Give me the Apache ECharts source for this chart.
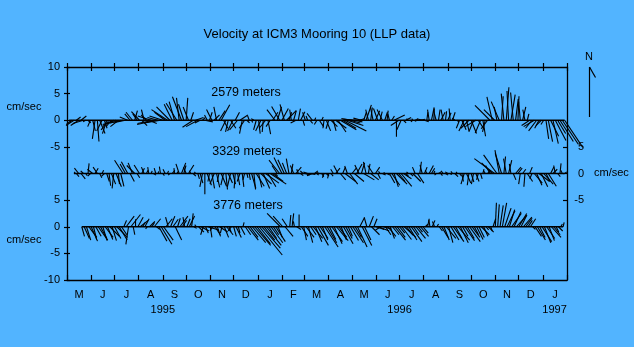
<!DOCTYPE html>
<html><head><meta charset="utf-8">
<script src="https://cdn.jsdelivr.net/npm/echarts@6/dist/echarts.min.js"></script>
<style>html,body{margin:0;padding:0;background:#52B4FF;}#c{width:634px;height:347px;}</style>
</head><body><div id="c"></div>
<script>
// ---------- text / axis data ----------
const chartTitle = 'Velocity at ICM3 Mooring 10 (LLP data)';
const depthNames = ['2579 meters', '3329 meters', '3776 meters'];
const monthLetters = ['M','J','J','A','S','O','N','D','J','F','M','A','M','J','J','A','S','O','N','D','J'];
// days since 1 May 1995 of each month start (1 May 1995 .. 1 Feb 1997)
const monthStartDays = [0,31,61,92,123,153,184,214,245,276,305,336,366,397,427,458,489,519,550,580,611,642];
const yearNames = ['1995', '1996', '1997'];
const yearDays = [123, 427, 626];
const leftTicks = [10, 5, 0, -5, -15, -20, -25, -30];
const rightTicks = [-5, -10, -15];
// vertical offsets (cm/s) of each depth's zero line on the shared axis
const depthOffsets = [0, -10, -20];

// ---------- velocity sticks (east u, north v, cm/s), one every 3 days ----------
const sampleStep = 3;
const start2579 = 3;
const u2579 = [
 0.3,-1,-1.5,0.8,-1.5,1,-2,-0.5,0.5,-0.5,
 0.5,-0.5,0.3,1,-1,0.5,-0.8,-1.5,-1,-2,
 -2.5,-1.5,-2,-3,-2,-1.5,-1,-1.2,0.5,-0.8,
 -1.5,1,-0.5,-1,1.5,-2.5,-3,-3.5,-2,-3,
 -2.5,-2,-3,-2.5,-1.5,-1,-2,-0.5,-1.7,-1,
 0.3,-1,0.5,-2,1.5,-2.2,-1,0.5,1.5,-0.5,
 0.5,-1,1,-0.5,1.2,1.6,0.8,-1,-0.5,1,
 -1,0.8,-1.5,1.5,-0.5,-1,0.5,-0.3,0.2,-0.5,
 -0.5,0.3,-1,-0.2,-1.2,0.5,-0.8,1,-1.5,0.8,
 -1.5,1.2,-0.8,1.8,0.5,-0.3,0.5,-1,0.4,0.8,
 0.3,-0.5,-0.3,0.5,-1,0.2,-0.5,0.8,0.3,-0.2,
 0.8,-0.5,1.2,0.5,2,1.5,3,2.5,4,3,
 2,-2,1.5,-2.5,1,-1.5,0.5,1,-0.5,0.3,
 -0.5,0.8,-0.8,0.4,-1,0.5,0.2,-0.3,0.5,2,
 0,-1.5,-0.8,0.5,1,-0.3,0.3,-0.2,0.5,-0.5,
 1,-1,0.8,0.2,-0.3,0.5,0.1,-0.5,0.3,0.8,
 -0.4,0.2,0.6,-0.2,0.5,-0.5,0.3,-0.6,0.8,-1,
 0.5,-1.5,1,-0.8,-2,1.2,-1,0.5,-0.5,-1.2,
 -2.8,-1,-2,-0.5,-1.5,0.3,-0.5,0.5,-0.3,0.8,
 -0.5,0.5,0.2,-0.3,0.6,-0.4,0.3,-1.5,-1.2,-2,
 -1.5,-0.8,-1,-0.5,0.5,0.8,1.5,1,2,1.5,2.5,3,3.4
];
const v2579 = [
 -0.3,-0.8,-1,0.6,-1,0.8,-0.6,-0.3,-0.5,-1.2,
 -2,-3.5,-4,-2.5,-2,-1.5,-2.5,-1.8,-1.2,-1,
 -0.8,-1.2,-0.5,-0.6,-0.4,0.6,1.2,1.5,1.8,1.2,
 1.6,-1,2,1,-0.6,0.8,-0.6,-0.8,0.5,-0.5,
 0.8,1.5,2,2.5,3,3.5,3.2,4.2,4.4,3,
 4.2,2.5,1.5,-1.3,0.5,-1.2,-0.5,0.5,-0.3,1,
 1.5,2,1,2.5,1.8,2.9,-1.5,-2,-2.2,-1.5,
 -2,1.5,-1.8,1,-2.5,-1.5,-0.5,0.8,-0.4,0.3,
 -1.8,-2.5,-2,-2.2,-1.5,-2.6,-1.2,1.5,2,2.5,
 2.6,2.2,3,1.8,1.5,2,1.8,-0.5,2.2,1.6,
 -1,1.5,0.8,-0.6,1.3,0.5,-0.8,-1.2,0.6,-1.5,
 -2,-1.6,-1.2,-2,-1.5,-2.2,-1.8,-1.5,-2,-1,
 -0.5,0.3,-0.3,0.2,0.3,0.4,1.5,2.9,2,2.4,
 2.5,1.8,2.2,1.6,2,1.5,1.8,1.2,0.8,1,
 -3.1,-1,-1.8,-0.5,0.5,0.3,-0.3,0.3,0.2,-0.2,
 0.2,0.3,-0.3,1.5,2,2.4,2.2,1.8,2,1.5,
 2,1.7,1.4,2.2,1.5,0.4,-0.3,-1.5,-1.8,-2,
 -2.2,-1.5,-2.5,-2,-1.2,-1.8,-2.4,-3,-2.2,-1.6,
 2.8,4.4,2,2.5,3.5,4.5,5,6.2,5.5,4.8,
 5.2,4,4.5,3.5,2.5,2,1.2,-1,-1.5,-1.2,
 -2,-1.5,-1,-0.8,-3.5,-4,-3,-4.4,-3.8,-2.5,-4,-4.5,-5.1
];
const start3329 = 9;
const u3329 = [
 0.2,0.5,-0.8,0.8,-0.5,0.3,0.2,-0.5,-1,0.6,
 -0.8,0.4,0.3,-0.5,0.5,0.3,0.8,-0.3,1,0.2,
 0.6,-1.6,-1,-1.2,0.8,-0.8,-1.5,0.5,-1,0.5,
 -0.5,0.3,-0.2,0.2,0.5,-0.3,0.1,-0.2,0.3,-0.4,
 0.2,-0.3,0.5,-0.1,0.3,-0.6,0.8,0.4,-0.5,1,
 -0.3,0.5,-0.2,0.3,0.5,-0.5,0,0.8,-0.3,0.5,
 -0.8,0.6,-0.3,1,-0.5,0.3,0.8,-0.6,0.5,-0.2,
 0.4,-0.5,0.3,-0.3,0.2,0.2,0.8,0.3,1.5,0.6,
 2,1.2,2.5,1.5,3,2,0.5,-1,-2,-1.5,
 -1.2,-0.8,-0.5,0.3,-0.6,1,-0.3,0.5,-0.5,0.8,
 -0.8,1,-1,0.6,0.3,-0.5,0.4,-0.3,0.5,-0.2,
 0.4,-0.5,0.8,-0.8,1,0.5,2,-0.5,1.5,0.8,
 1.8,1,-0.8,0.6,2,-0.5,0.3,1.5,-1,0.8,
 0.5,-0.3,0.6,-0.2,0.5,1,1.5,0.8,2,1.2,
 2,1.5,0.5,-0.3,0.5,1.5,-0.5,1.2,0.3,-0.4,
 0.5,-0.3,0.8,0.6,0.2,-0.3,0.5,0.3,-0.4,0.5,
 -0.5,0.3,-0.3,0.6,-0.2,0.4,0.3,-0.6,0.8,-0.3,
 0.5,-0.4,0.6,-0.3,0.3,0.2,-0.3,0.5,-0.8,-2,
 -3.8,-2.5,-0.8,-1.2,0.3,-0.5,0.6,-0.3,0.5,1,
 0.8,-0.3,0.6,-0.2,1,0.5,-0.4,1.5,1,2,
 1.2,1.8,0.8,1.5,0.6,0.8,-0.3,0.5,0.2,-0.3,0.4
];
const v3329 = [
 0.3,-0.6,1,-1,0.5,-0.4,1.9,-0.5,0.8,1,
 1.2,-0.8,0.6,-0.5,-1.5,-2.3,-2,-2.8,-2.5,-2,
 -2.4,2.5,1.8,2.2,-1.5,2,1.5,-0.8,1.6,1,
 1.2,0.6,1.2,0.5,-0.3,1,0.4,1.3,-0.4,0.8,
 0.5,-0.3,0.6,1,0.4,1.8,2,1.5,1.2,1.6,
 0.5,-0.5,0.3,-1,-1.8,-2.5,-3.9,-2.2,-1.5,-2.8,
 -2,-2.6,-1.6,-2.4,-2.2,-3,-1.8,-2.5,-2,-2.8,
 -2.2,-1.5,-2.5,-1.2,-0.8,-1.2,-2.8,-3,-2.4,-2.6,
 -2,-2.8,-1.8,-2.5,-2,-1.5,-0.5,1.5,2.5,3,
 2.6,2,2.8,1.8,1.5,1.2,0.8,-0.4,0.5,-0.3,
 0.3,-0.2,-0.4,0.5,-0.3,0.2,-0.6,-0.8,-0.5,-0.9,
 -0.5,0.8,1,1.5,-1.2,1.2,-1.5,1.4,-2,1,
 -1.5,1.8,1.6,2,-1.2,2.2,1.8,-1.2,1.5,1.2,
 -1,0.4,-0.3,0.2,-0.3,-1.8,-2.2,-2.5,-2,-1.5,
 -2.4,-1,-0.5,0.3,-0.5,-1.5,1.2,-1.8,2.2,1.6,
 1.2,0.6,1.5,1,0.5,-0.3,0.3,-0.4,0.5,-0.3,
 0.3,-0.2,0.4,-0.6,0.3,-0.5,-1.5,-2,-1.8,-2.2,
 -1.6,-2,-1.5,-1.2,-1,0.8,0.5,0.6,1.5,2,
 2.8,3.5,4.4,3.8,3.2,2.8,2.5,1.8,-1.2,1.2,
 1,-2,0.8,-2.5,-1.5,1.2,-1,-1.8,-2.2,-1.5,
 -2.5,-2,-1.5,-2.4,1.2,0.8,1.5,-0.6,1.9,0.6,0.3
];
const start3776 = 19;
const u3776 = [
 0.5,1,0.8,1.5,1.2,0.6,1,1.8,1.2,0.8,
 1.5,1,1.8,0.8,1.2,2,1.5,1,0.5,1.5,
 -0.5,1.8,0.3,0,1,1.5,0.5,0.8,-0.3,1,
 0.5,1.2,0.6,1.5,2,1.8,1.2,-0.5,0.8,1,
 1.2,0.5,1.5,0.8,-0.3,0.6,1,0.3,0.5,-0.3,
 1,1.5,-0.5,0.5,2,0.3,-0.5,1,0.6,1.5,
 -0.3,0.8,1.2,0.4,-0.6,0.5,1,0.3,0.8,0.2,
 1,2,1.5,2.5,3,2.5,4.3,3.5,2,2.8,
 1.5,2.2,1,1.8,0.8,-2.5,-1.8,1.5,-1,0.2,
 0.3,-0.2,0.8,0,1.2,0.5,1.5,0.8,1,1.8,
 1.2,2,1.5,1,2.5,1.8,1.2,2,1.5,2.2,
 1.5,1,1.8,1.2,0.8,1.5,2,1.2,1.8,0.8,
 1.8,1.2,-0.5,0.8,1.5,0.6,1.5,2,-1,1.5,
 1,1.5,0.8,1.2,2,1.5,1,1.8,2.2,1.2,
 1.5,2,1,1.8,0.8,1.5,1,0.5,0.3,-0.2,
 0.5,-0.4,0.3,0.6,1.2,1,1.8,0.8,1.5,2,
 1.2,2.2,1.5,1,1.8,1.3,2,1.5,0.8,1.2,
 1,1.5,0.8,0.5,1,0.3,0.5,0.2,0.3,0.6,
 0.8,1.2,1.5,1,1.8,1.3,2,1.5,1,1.6,
 1.2,0.8,1,0.5,1.2,1.5,1,1.8,1.2,1.5,
 1,1.8,1.2,0.5,0.8,0.3,0.2
];
const v3776 = [
 -1.8,-2.2,-2.5,-2,-2.7,-2.4,-1.8,-2.5,-2.2,-2.6,
 -2,-2.4,-1.8,-2.6,-2.2,-2,-2.5,-1.5,1.2,2,
 -3.3,2.3,-1.5,1.4,1.8,1.2,0.8,1.5,-0.4,1,
 0.8,1.5,-0.5,-2.7,-3.3,-2.5,1.5,1.8,2,1.4,
 -2.5,1.6,2,1.2,1.8,1.5,2,2.5,-0.3,0.4,
 -1,-0.8,-1.5,-1.2,-0.6,-2,-0.8,-1.5,-1.8,-1,
 -1.2,-2,-1.5,-1,-0.8,-1.8,-2,-1.2,-1.5,0.8,
 -1.5,-2.5,-2,-3,-3.5,-3.2,-5.3,-4,-2.5,-3.5,
 -2.2,-3,-1.5,-2.8,-2,2.5,2,-1.8,1.5,2.2,
 2.5,1,-0.5,2.3,-1.8,-2.5,-2,-3,-1.5,-2.2,
 -2.8,-3.5,-2.2,-2.5,-3.8,-3,-2.4,-2.8,-3.2,-2.6,
 -2,-2.5,-3.2,-2.2,-1.8,-2.6,-3,-2,-3.8,1.6,
 -3.5,-2.5,1.8,2,-1.5,1.5,-0.5,-0.8,-0.6,-0.4,
 -1.5,-1.8,-2.2,-1.5,-2.5,-2,-1.2,-2.4,-2,-1.6,
 -2.5,-2.8,-1.5,-2.2,-1,-1.8,-1.2,0.5,1.5,1.3,
 1.2,1,0.5,-0.8,-2,-2.5,-2.2,-3,-2.5,-2.8,
 -2.2,-2.5,-3,-1.8,-2.6,-2.2,-2.8,-2,-1.5,-2.4,
 -2,-1.5,-1.8,-0.6,-1,-0.8,1.5,4.5,4.2,4,
 4.5,3.5,3,3.2,2.5,2.8,2.2,2.5,2,1.8,
 1.6,1.2,1.5,-0.5,-1.8,-2.5,-2,-2.8,-3,-2.2,
 -2.6,-2,-1.5,-1,-0.8,0.5,0.8
];

// ---------- build ----------
const FONT = 'Liberation Sans, Arial, sans-serif';
const depthSets = [
  {start: start2579, u: u2579, v: v2579},
  {start: start3329, u: u3329, v: v3329},
  {start: start3776, u: u3776, v: v3776}
];
const monthMids = monthLetters.map((m, i) => (monthStartDays[i] + monthStartDays[i + 1]) / 2);
function idxOf(arr, val) { return arr.findIndex(a => Math.abs(a - val) < 0.01); }

function renderStick(params, api) {
  const day = api.value(0), u = api.value(1), v = api.value(2), base = api.value(3);
  const p0 = api.coord([day, base]);
  const p1 = api.coord([day, base + v]);
  const unit = api.size([0, 1])[1];
  return {
    type: 'line',
    shape: {x1: p0[0], y1: p0[1], x2: p0[0] + u * unit, y2: p1[1]},
    style: {stroke: '#000', lineWidth: 1.1}
  };
}

const series = [];
depthSets.forEach((d, k) => {
  const base = depthOffsets[k];
  const data = d.u.map((u, i) => [d.start + i * sampleStep, u, d.v[i], base]);
  series.push({
    type: 'custom', renderItem: renderStick, data: data, clip: false,
    encode: {x: 0, y: 3}, silent: true
  });
  series.push({
    type: 'line', symbol: 'none', silent: true,
    data: [[d.start, base], [d.start + (d.u.length - 1) * sampleStep, base]],
    lineStyle: {color: '#000', width: 1.5}
  });
});

const axisLine = {show: true, onZero: false, lineStyle: {color: '#000', width: 1.3}};
const noLine = {show: false, onZero: false};
const labelStyle = {color: '#000', fontFamily: FONT, fontSize: 11};
const tickStyle = {color: '#000', width: 1.2};

const option = {
  animation: false,
  backgroundColor: '#52B4FF',
  grid: {left: 67, right: 67, top: 67, bottom: 67, containLabel: false},
  xAxis: [
    {type: 'value', position: 'bottom', min: 0, max: 642, axisLine: axisLine,
     axisTick: {show: true, inside: true, length: 5, customValues: monthStartDays, lineStyle: tickStyle},
     axisLabel: Object.assign({customValues: monthMids, margin: 9,
       formatter: v => monthLetters[idxOf(monthMids, v)] || ''}, labelStyle),
     splitLine: {show: false}},
    {type: 'value', position: 'bottom', min: 0, max: 642, axisLine: noLine,
     axisTick: {show: false},
     axisLabel: Object.assign({customValues: yearDays, margin: 24,
       formatter: v => yearNames[idxOf(yearDays, v)] || ''}, labelStyle),
     splitLine: {show: false}},
    {type: 'value', position: 'top', min: 0, max: 642, axisLine: axisLine,
     axisTick: {show: true, inside: false, length: 4, customValues: monthStartDays, lineStyle: tickStyle},
     axisLabel: {show: false}, splitLine: {show: false}},
    {type: 'value', position: 'top', min: 0, max: 642, axisLine: noLine,
     axisTick: {show: true, inside: true, length: 4, customValues: monthStartDays, lineStyle: tickStyle},
     axisLabel: {show: false}, splitLine: {show: false}}
  ],
  yAxis: [
    {type: 'value', position: 'left', min: -30, max: 10, axisLine: axisLine,
     axisTick: {show: true, inside: false, length: 3, customValues: leftTicks, lineStyle: tickStyle},
     axisLabel: Object.assign({customValues: leftTicks, margin: 7,
       formatter: v => String(v > -10 ? v : v + 20)}, labelStyle),
     splitLine: {show: false}},
    {type: 'value', position: 'left', min: -30, max: 10, axisLine: noLine,
     axisTick: {show: true, inside: true, length: 3, customValues: leftTicks, lineStyle: tickStyle},
     axisLabel: {show: false}, splitLine: {show: false}},
    {type: 'value', position: 'right', min: -30, max: 10, axisLine: axisLine,
     axisTick: {show: true, inside: true, length: 4, customValues: rightTicks, lineStyle: tickStyle},
     axisLabel: Object.assign({customValues: rightTicks, margin: 17, align: 'right',
       formatter: v => String(v + 10)}, labelStyle),
     splitLine: {show: false}}
  ],
  series: series,
  graphic: [
    {type: 'text', x: 317, y: 34, style: {text: chartTitle, font: '13px ' + FONT, fill: '#000', align: 'center', verticalAlign: 'middle'}},
    {type: 'text', x: 246, y: 93, style: {text: depthNames[0], font: '12.5px ' + FONT, fill: '#000', align: 'center', verticalAlign: 'middle'}},
    {type: 'text', x: 247, y: 152, style: {text: depthNames[1], font: '12.5px ' + FONT, fill: '#000', align: 'center', verticalAlign: 'middle'}},
    {type: 'text', x: 248, y: 206, style: {text: depthNames[2], font: '12.5px ' + FONT, fill: '#000', align: 'center', verticalAlign: 'middle'}},
    {type: 'text', x: 24, y: 107, style: {text: 'cm/sec', font: '11px ' + FONT, fill: '#000', align: 'center', verticalAlign: 'middle'}},
    {type: 'text', x: 24, y: 240, style: {text: 'cm/sec', font: '11px ' + FONT, fill: '#000', align: 'center', verticalAlign: 'middle'}},
    {type: 'text', x: 594, y: 173, style: {text: 'cm/sec', font: '11px ' + FONT, fill: '#000', align: 'left', verticalAlign: 'middle'}},
    {type: 'text', x: 589, y: 57, style: {text: 'N', font: '11px ' + FONT, fill: '#000', align: 'center', verticalAlign: 'middle'}},
    {type: 'line', shape: {x1: 589.5, y1: 67, x2: 589.5, y2: 117}, style: {stroke: '#000', lineWidth: 1.2}},
    {type: 'line', shape: {x1: 589.5, y1: 67, x2: 595.5, y2: 77.5}, style: {stroke: '#000', lineWidth: 1.2}}
  ]
};
const chart = echarts.init(document.getElementById('c'), null, {renderer: 'canvas'});
chart.setOption(option);
</script></body></html>
